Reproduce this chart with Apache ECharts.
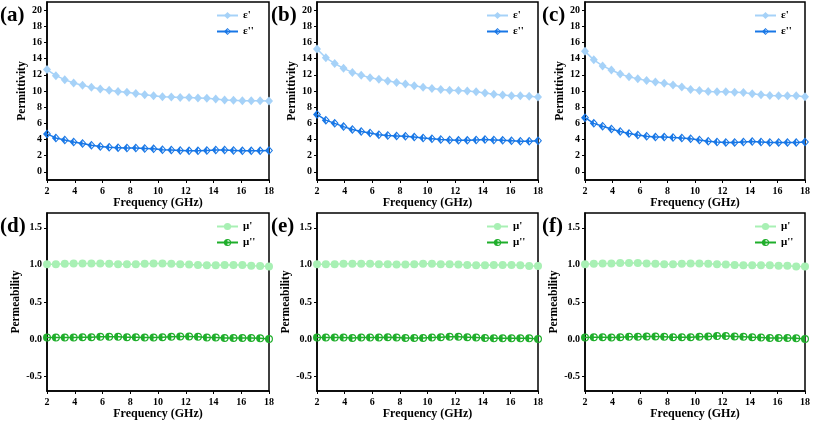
<!DOCTYPE html>
<html><head><meta charset="utf-8">
<script src="https://cdn.jsdelivr.net/npm/echarts@6/dist/echarts.min.js"></script>
<style>html,body{margin:0;padding:0;background:#fff}#c{width:813px;height:421px}</style>
</head><body><div id="c"></div>
<script>
const freq = [2, 2.64, 3.28, 3.92, 4.56, 5.2, 5.84, 6.48, 7.12, 7.76, 8.4, 9.04, 9.68, 10.32, 10.96, 11.6, 12.24, 12.88, 13.52, 14.16, 14.8, 15.44, 16.08, 16.72, 17.36, 18];

const epsReal_a = [12.65, 11.9, 11.4, 11.0, 10.7, 10.45, 10.25, 10.1, 9.95, 9.85, 9.7, 9.55, 9.4, 9.3, 9.25, 9.2, 9.2, 9.15, 9.1, 9.0, 8.9, 8.85, 8.8, 8.8, 8.8, 8.75];
const epsImag_a = [4.7, 4.2, 3.95, 3.7, 3.5, 3.3, 3.15, 3.05, 3.0, 2.95, 2.95, 2.9, 2.85, 2.75, 2.7, 2.65, 2.6, 2.6, 2.65, 2.7, 2.7, 2.65, 2.6, 2.6, 2.6, 2.65];
const epsReal_b = [15.2, 14.1, 13.4, 12.8, 12.3, 11.95, 11.65, 11.45, 11.25, 11.05, 10.85, 10.65, 10.45, 10.3, 10.2, 10.1, 10.05, 10.0, 9.9, 9.75, 9.6, 9.5, 9.4, 9.4, 9.35, 9.25];
const epsImag_b = [7.1, 6.4, 6.0, 5.6, 5.25, 5.0, 4.8, 4.6, 4.5, 4.45, 4.4, 4.3, 4.2, 4.1, 4.0, 3.95, 3.9, 3.9, 3.95, 4.0, 3.95, 3.9, 3.85, 3.8, 3.8, 3.85];
const epsReal_c = [14.9, 13.85, 13.1, 12.6, 12.1, 11.75, 11.5, 11.3, 11.1, 10.95, 10.75, 10.5, 10.2, 10.05, 9.95, 9.9, 9.9, 9.85, 9.8, 9.65, 9.55, 9.45, 9.4, 9.4, 9.4, 9.3];
const epsImag_c = [6.7, 6.0, 5.65, 5.3, 5.0, 4.75, 4.55, 4.4, 4.3, 4.3, 4.25, 4.2, 4.1, 3.95, 3.8, 3.7, 3.65, 3.65, 3.7, 3.75, 3.7, 3.65, 3.65, 3.65, 3.65, 3.7];
const muReal_d = [1.01, 1.01, 1.015, 1.02, 1.02, 1.02, 1.02, 1.015, 1.01, 1.01, 1.01, 1.015, 1.02, 1.02, 1.015, 1.01, 1.005, 1.0, 0.995, 0.995, 1.0, 1.0, 1.0, 0.99, 0.985, 0.98];
const muImag_d = [0.02, 0.02, 0.02, 0.02, 0.025, 0.025, 0.03, 0.03, 0.03, 0.025, 0.025, 0.02, 0.02, 0.025, 0.03, 0.035, 0.035, 0.03, 0.02, 0.02, 0.015, 0.015, 0.015, 0.015, 0.01, 0.0];
const muReal_e = [1.01, 1.01, 1.01, 1.015, 1.015, 1.015, 1.015, 1.01, 1.01, 1.005, 1.005, 1.01, 1.015, 1.015, 1.01, 1.01, 1.005, 1.0, 0.995, 0.995, 1.0, 1.0, 1.0, 0.995, 0.985, 0.985];
const muImag_e = [0.02, 0.02, 0.02, 0.02, 0.015, 0.02, 0.02, 0.02, 0.025, 0.02, 0.015, 0.015, 0.015, 0.02, 0.025, 0.03, 0.03, 0.025, 0.02, 0.015, 0.01, 0.01, 0.01, 0.01, 0.01, 0.0];
const muReal_f = [1.01, 1.015, 1.02, 1.02, 1.025, 1.025, 1.025, 1.02, 1.015, 1.01, 1.01, 1.015, 1.02, 1.02, 1.015, 1.01, 1.005, 1.0, 0.995, 0.995, 0.995, 0.995, 0.99, 0.99, 0.98, 0.98];
const muImag_f = [0.02, 0.025, 0.025, 0.02, 0.025, 0.03, 0.03, 0.035, 0.035, 0.03, 0.025, 0.025, 0.025, 0.03, 0.035, 0.04, 0.04, 0.035, 0.03, 0.025, 0.02, 0.015, 0.015, 0.015, 0.01, 0.0];

const permTicks = [0, 2, 4, 6, 8, 10, 12, 14, 16, 18, 20];
const meabTicks = [-0.5, 0, 0.5, 1.0, 1.5];
const freqTicks = [2, 4, 6, 8, 10, 12, 14, 16, 18];
const panelLabels = ['(a)', '(b)', '(c)', '(d)', '(e)', '(f)'];
const epsNames = ["ε'", "ε''"];
const muNames = ["μ'", "μ''"];

const panels = [
  {re: epsReal_a, im: epsImag_a, kind: 'eps'},
  {re: epsReal_b, im: epsImag_b, kind: 'eps'},
  {re: epsReal_c, im: epsImag_c, kind: 'eps'},
  {re: muReal_d, im: muImag_d, kind: 'mu'},
  {re: muReal_e, im: muImag_e, kind: 'mu'},
  {re: muReal_f, im: muImag_f, kind: 'mu'}
];

const FONT = 'Liberation Serif';
const gridPos = [
  {left: 47, top: 2, width: 222, height: 178},
  {left: 317, top: 2, width: 221, height: 178},
  {left: 585, top: 2, width: 223, height: 178},
  {left: 47, top: 213, width: 222, height: 179},
  {left: 317, top: 213, width: 221, height: 179},
  {left: 585, top: 213, width: 223, height: 179}
];
const labelPos = [[0, 5], [271, 5], [542, 5], [0, 216], [271, 216], [542, 216]];

// half-filled markers: left half solid, right half drawn as a thin outline (simple polygons, no holes)
const halfDiamond = 'path://M10 0 L0 10 L10 20 Z M10 0 L20 10 L10 20 L10 16.6 L16.6 10 L10 3.4 Z';
const halfCircle = 'path://M10 0 A10 10 0 0 0 10 20 Z M10 0 A10 10 0 0 1 10 20 L10 17 A7 7 0 0 0 10 3 Z';

const colors = {
  eps: ['#a6d2f8', '#1877e6'],
  mu: ['#a8f0b4', '#1fae2b']
};

const grid = [], xAxis = [], yAxis = [], series = [], legend = [], graphic = [];
panels.forEach((p, i) => {
  const g = gridPos[i];
  grid.push({left: g.left, top: g.top, width: g.width, height: g.height, show: true, borderColor: '#000', borderWidth: 1.5, backgroundColor: 'transparent'});
  const isEps = p.kind === 'eps';
  const lbl = {fontFamily: FONT, fontWeight: 'bold', fontSize: 10, color: '#000'};
  xAxis.push({
    type: 'value', gridIndex: i, min: 2, max: 18, interval: 2,
    name: 'Frequency (GHz)', nameLocation: 'middle', nameGap: 17,
    nameTextStyle: {fontFamily: FONT, fontWeight: 'bold', fontSize: 12, color: '#000'},
    axisLine: {onZero: false, lineStyle: {color: '#000', width: 1.5}},
    axisTick: {show: true, inside: false, length: 3, lineStyle: {color: '#000'}, customValues: freqTicks},
    axisLabel: Object.assign({margin: 6, customValues: freqTicks}, lbl),
    splitLine: {show: false}
  });
  yAxis.push({
    type: 'value', gridIndex: i,
    min: isEps ? -1 : -0.7, max: isEps ? 21 : 1.7,
    name: isEps ? 'Permittivity' : 'Permeability', nameLocation: 'middle', nameGap: isEps ? 19 : 22,
    nameTextStyle: {fontFamily: FONT, fontWeight: 'bold', fontSize: 11.5, color: '#000'},
    axisLine: {onZero: false, lineStyle: {color: '#000', width: 1.5}},
    axisTick: {show: true, inside: false, length: 3, lineStyle: {color: '#000'}, customValues: isEps ? permTicks : meabTicks},
    axisLabel: Object.assign({margin: 5, customValues: isEps ? permTicks : meabTicks,
      formatter: v => isEps ? String(v) : Number(v).toFixed(1)}, lbl),
    splitLine: {show: false}
  });
  const names = isEps ? epsNames : muNames;
  const cols = colors[p.kind];
  const sym1 = isEps ? 'diamond' : 'circle';
  const sym2 = isEps ? halfDiamond : halfCircle;
  [p.re, p.im].forEach((vals, k) => {
    series.push({
      type: 'line', name: names[k], xAxisIndex: i, yAxisIndex: i,
      data: freq.map((f, j) => [f, vals[j]]),
      symbol: k === 0 ? sym1 : sym2,
      symbolSize: isEps ? [8, 9] : 8,
      showSymbol: true,
      lineStyle: {color: cols[k], width: 1.5},
      itemStyle: {color: cols[k], borderWidth: 0},
      animation: false
    });
  });
  legend.push({
    data: names.slice(), orient: 'vertical', left: g.left + 164, top: g.top + 3,
    itemWidth: 21, itemHeight: 9, itemGap: 5,
    textStyle: {fontFamily: FONT, fontWeight: 'bold', fontSize: 11, color: '#000'},
    selectedMode: false
  });
  graphic.push({type: 'text', left: labelPos[i][0], top: labelPos[i][1],
    style: {text: panelLabels[i], font: 'bold 21px "Liberation Serif"', fill: '#000'}});
});

const chart = echarts.init(document.getElementById('c'), null, {renderer: 'canvas'});
chart.setOption({animation: false, grid, xAxis, yAxis, series, legend, graphic});
</script></body></html>
